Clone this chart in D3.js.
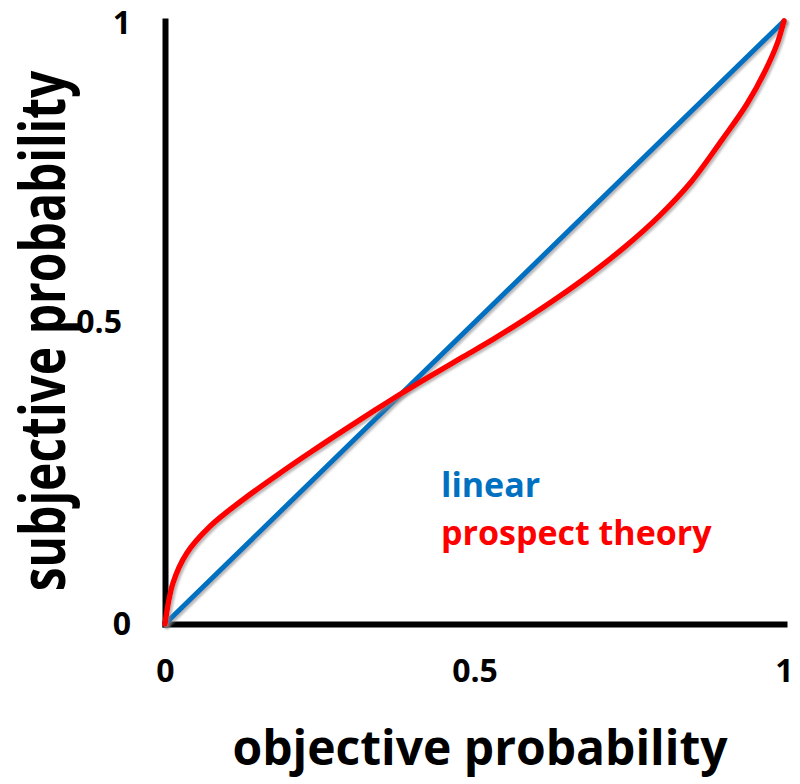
<!DOCTYPE html>
<html>
<head>
<meta charset="utf-8">
<script src="https://cdn.jsdelivr.net/npm/d3@7"></script>
<style>
	body { margin: 0; background: #fff; }
	text { font-family: "Open Sans", sans-serif; font-weight: bold; }
</style>
</head>
<body>
<div id="chart"></div>
<script>
	//objective probability (x) and subjective weight (y)
	var linearP = [0, 1];
	var linearW = [0, 1];

	var prospectP = [0, 0.013, 0.035, 0.073, 0.126, 0.18, 0.234, 0.29, 0.34, 0.38, 0.43, 0.48, 0.53, 0.583, 0.637, 0.691, 0.745, 0.798, 0.85, 0.9, 0.94, 0.97, 0.99, 1];
	var prospectW = [0, 0.068, 0.117, 0.162, 0.206, 0.246, 0.284, 0.322, 0.355, 0.381, 0.412, 0.442, 0.472, 0.506, 0.543, 0.583, 0.627, 0.676, 0.733, 0.803, 0.862, 0.918, 0.965, 1];

	var xTicks = [0, 0.5, 1];
	var yTicks = [0, 0.5, 1];
	var tickLabels = ["0", "0.5", "1"];

	var legendNames = ["linear", "prospect theory"];
	var colors = ["#0070C0", "#FF0000"];

	var width = 800;
	var height = 784;

	var svg = d3.select("#chart").append("svg")
		.attr("width", width)
		.attr("height", height);

	// soft grey shadow under the curves
	var filter = svg.append("defs").append("filter")
		.attr("id", "shadow")
		.attr("x", "-10%").attr("y", "-10%")
		.attr("width", "120%").attr("height", "120%");
	filter.append("feDropShadow")
		.attr("dx", 2)
		.attr("dy", 2)
		.attr("stdDeviation", 1.3)
		.attr("flood-color", "#888")
		.attr("flood-opacity", 0.6);

	var x = d3.scaleLinear().domain([0, 1]).range([165, 784]);
	var y = d3.scaleLinear().domain([0, 1]).range([624, 21]);

	function fmt(d) { return tickLabels[xTicks.indexOf(d)]; }

	//axes
	var yAxis = svg.append("g")
		.attr("transform", "translate(" + x(0) + ",0)")
		.call(d3.axisLeft(y).tickValues(yTicks).tickFormat(fmt).tickSize(0).tickSizeOuter(0).tickPadding(34));

	var xAxis = svg.append("g")
		.attr("transform", "translate(0," + y(0) + ")")
		.call(d3.axisBottom(x).tickValues(xTicks).tickFormat(fmt).tickSize(0).tickSizeOuter(0).tickPadding(35));

	svg.selectAll(".domain")
		.attr("stroke", "#000")
		.attr("stroke-width", 6)
		.attr("stroke-linecap", "square");

	svg.selectAll(".tick text")
		.attr("fill", "#000")
		.style("font-size", "32px")
		.style("font-family", "'Open Sans', sans-serif")
		.style("font-weight", "bold");

	yAxis.selectAll(".tick text")
		.attr("x", function(d) { return d === 0.5 ? -43 : -34; })
		.attr("dy", function(d) { return d === 1 ? "0.4em" : "0.32em"; });

	//curves
	var line = d3.line()
		.x(function(d) { return x(d[0]); })
		.y(function(d) { return y(d[1]); })
		.curve(d3.curveCatmullRom.alpha(0.5));

	var series = [
		{ p: linearP, w: linearW, width: 5 },
		{ p: prospectP, w: prospectW, width: 5.5 }
	];

	svg.selectAll("path.curve")
		.data(series)
		.enter()
		.append("path")
		.attr("class", "curve")
		.attr("fill", "none")
		.attr("stroke", function(d, i) { return colors[i]; })
		.attr("stroke-width", function(d) { return d.width; })
		.attr("stroke-linecap", "round")
		.attr("filter", "url(#shadow)")
		.attr("d", function(d) {
			return line(d.p.map(function(v, i) { return [v, d.w[i]]; }));
		});

	//legend
	svg.selectAll("text.legend")
		.data(legendNames)
		.enter()
		.append("text")
		.attr("class", "legend")
		.attr("x", 441)
		.attr("y", function(d, i) { return 497 + i * 48; })
		.attr("fill", function(d, i) { return colors[i]; })
		.style("font-size", "34px")
		.text(function(d) { return d; });

	//axis titles
	svg.append("text")
		.attr("x", 480)
		.attr("y", 765)
		.attr("text-anchor", "middle")
		.style("font-size", "48px")
		.text("objective probability");

	// the vertical title is drawn a bit taller than it is long, as in the picture
	svg.append("text")
		.attr("transform", "translate(65,331) rotate(-90) scale(1,1.3)")
		.attr("text-anchor", "middle")
		.style("font-size", "48px")
		.text("subjective probability");
</script>
</body>
</html>
